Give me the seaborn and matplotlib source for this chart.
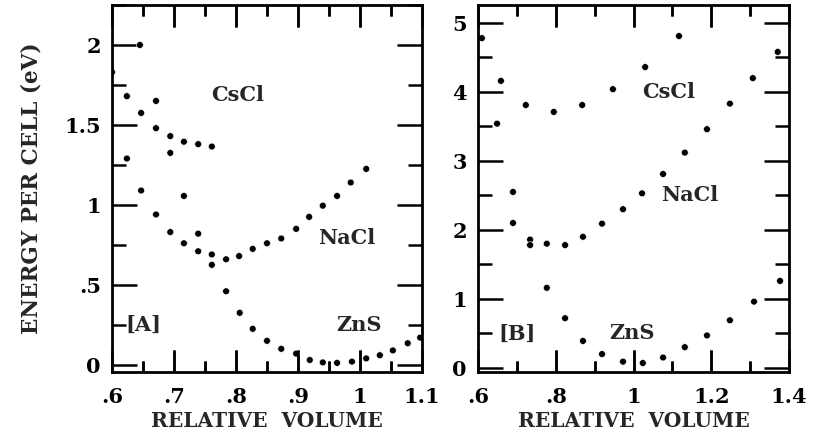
import numpy as np
import pandas as pd
import matplotlib
matplotlib.use("Agg")
import matplotlib.pyplot as plt
import seaborn as sns
from matplotlib.ticker import MultipleLocator, FixedLocator, FixedFormatter

# ---- data: panel A ----
cscl_a_x = [0.600, 0.624, 0.645, 0.647, 0.671, 0.671, 0.694, 0.694, 0.716, 0.739, 0.761]
cscl_a_y = [1.83, 1.68, 2.00, 1.575, 1.65, 1.48, 1.43, 1.325, 1.395, 1.38, 1.365]
nacl_a_x = [0.624, 0.647, 0.671, 0.694, 0.716, 0.739, 0.761, 0.784, 0.805, 0.827, 0.850,
            0.873, 0.897, 0.918, 0.940, 0.963, 0.985, 1.010]
nacl_a_y = [1.29, 1.09, 0.94, 0.83, 0.76, 0.71, 0.69, 0.66, 0.68, 0.725, 0.76,
            0.79, 0.85, 0.925, 0.995, 1.056, 1.14, 1.225]
zns_a_x = [0.716, 0.739, 0.761, 0.784, 0.806, 0.827, 0.850, 0.873, 0.897, 0.919, 0.940,
           0.963, 0.987, 1.010, 1.032, 1.053, 1.077, 1.097]
zns_a_y = [1.056, 0.82, 0.625, 0.46, 0.325, 0.225, 0.15, 0.10, 0.07, 0.03, 0.015,
           0.012, 0.02, 0.04, 0.06, 0.09, 0.135, 0.17]

# ---- data: panel B ----
cscl_b_x = [0.61, 0.649, 0.659, 0.723, 0.795, 0.868, 0.947, 1.03, 1.117, 1.307, 1.371]
cscl_b_y = [4.78, 3.54, 4.16, 3.81, 3.71, 3.81, 4.04, 4.36, 4.81, 4.20, 4.58]
nacl_b_x = [0.69, 0.69, 0.734, 0.734, 0.777, 0.824, 0.87, 0.919, 0.973, 1.022, 1.076,
            1.132, 1.189, 1.248]
nacl_b_y = [2.55, 2.10, 1.86, 1.78, 1.80, 1.78, 1.90, 2.09, 2.30, 2.53, 2.81,
            3.12, 3.46, 3.83]
zns_b_x = [0.777, 0.824, 0.87, 0.919, 0.973, 1.024, 1.076, 1.132, 1.189, 1.248, 1.31, 1.377]
zns_b_y = [1.16, 0.72, 0.39, 0.20, 0.09, 0.07, 0.15, 0.30, 0.47, 0.69, 0.96, 1.26]

xticks_a = [0.6, 0.7, 0.8, 0.9, 1.0, 1.1]
xminor_a = [0.65, 0.75, 0.85, 0.95, 1.05]
xlabels_a = [".6", ".7", ".8", ".9", "1", "1.1"]
yticks_a = [0, 0.5, 1, 1.5, 2]
ylabels_a = ["0", ".5", "1", "1.5", "2"]
xticks_b = [0.6, 0.8, 1.0, 1.2, 1.4]
xminor_b = [0.7, 0.9, 1.1, 1.3]
xlabels_b = [".6", ".8", "1", "1.2", "1.4"]
yticks_b = [0, 1, 2, 3, 4, 5]
ylabels_b = ["0", "1", "2", "3", "4", "5"]

sns.set_style("ticks")
plt.rcParams.update({
    "font.family": ["DejaVu Serif"],
    "axes.linewidth": 2.0,
    "axes.edgecolor": "black",
    "xtick.direction": "in", "ytick.direction": "in",
    "xtick.top": True, "xtick.bottom": True,
    "ytick.left": True, "ytick.right": True,
    "xtick.major.size": 16, "xtick.minor.size": 8,
    "ytick.major.size": 18, "ytick.minor.size": 10,
    "xtick.major.width": 1.8, "xtick.minor.width": 1.8,
    "ytick.major.width": 1.8, "ytick.minor.width": 1.8,
    "xtick.major.pad": 11, "ytick.major.pad": 8,
    "xtick.labelsize": 15, "ytick.labelsize": 15,
    "xtick.color": "black", "ytick.color": "black",
})


def frame(kind, xs, ys):
    return pd.DataFrame({"x": xs, "y": ys, "phase": kind})


df_a = pd.concat([frame("CsCl", cscl_a_x, cscl_a_y),
                  frame("NaCl", nacl_a_x, nacl_a_y),
                  frame("ZnS", zns_a_x, zns_a_y)], ignore_index=True)
df_b = pd.concat([frame("CsCl", cscl_b_x, cscl_b_y),
                  frame("NaCl", nacl_b_x, nacl_b_y),
                  frame("ZnS", zns_b_x, zns_b_y)], ignore_index=True)

fig = plt.figure(figsize=(8.16, 4.38), dpi=100)
W, H = 816, 438
AX_H = 367
ax_a = fig.add_axes([112 / W, (H - 372) / H, 310 / W, AX_H / H])
ax_b = fig.add_axes([478 / W, (H - 372) / H, 311 / W, AX_H / H])

pal = {"CsCl": "black", "NaCl": "black", "ZnS": "black"}
for ax, df in ((ax_a, df_a), (ax_b, df_b)):
    sns.scatterplot(data=df, x="x", y="y", hue="phase", palette=pal, s=24,
                    legend=False, ax=ax)

ax_a.set_xlim(0.6, 1.1)
ax_a.set_ylim(-0.045, 2.25)
ax_a.xaxis.set_major_locator(FixedLocator(xticks_a))
ax_a.xaxis.set_major_formatter(FixedFormatter(xlabels_a))
ax_a.xaxis.set_minor_locator(FixedLocator(xminor_a))
ax_a.yaxis.set_major_locator(FixedLocator(yticks_a))
ax_a.yaxis.set_major_formatter(FixedFormatter(ylabels_a))
ax_a.yaxis.set_minor_locator(MultipleLocator(0.25))

ax_b.set_xlim(0.6, 1.4)
ax_b.set_ylim(-0.06, 5.26)
ax_b.xaxis.set_major_locator(FixedLocator(xticks_b))
ax_b.xaxis.set_major_formatter(FixedFormatter(xlabels_b))
ax_b.xaxis.set_minor_locator(FixedLocator(xminor_b))
ax_b.yaxis.set_major_locator(FixedLocator(yticks_b))
ax_b.yaxis.set_major_formatter(FixedFormatter(ylabels_b))
ax_b.yaxis.set_minor_locator(MultipleLocator(0.5))

# explicit inward x tick marks (bottom and top) at the tick positions
maj_len = 16 * 100 / 72 / AX_H
min_len = 8 * 100 / 72 / AX_H
for ax, majors, minors in ((ax_a, xticks_a, xminor_a), (ax_b, xticks_b, xminor_b)):
    tr = ax.get_xaxis_transform()
    inner_maj = [v for v in majors if ax.get_xlim()[0] < v < ax.get_xlim()[1]]
    ax.vlines(inner_maj, 0, maj_len, transform=tr, colors="black", linewidth=1.8,
              zorder=3, clip_on=False)
    ax.vlines(inner_maj, 1 - maj_len, 1, transform=tr, colors="black", linewidth=1.8,
              zorder=3, clip_on=False)
    ax.vlines(minors, 0, min_len, transform=tr, colors="black", linewidth=1.8,
              zorder=3, clip_on=False)
    ax.vlines(minors, 1 - min_len, 1, transform=tr, colors="black", linewidth=1.8,
              zorder=3, clip_on=False)

for ax in (ax_a, ax_b):
    ax.set_xlabel("RELATIVE  VOLUME", fontsize=14.5, fontweight="bold", labelpad=3)
    ax.set_ylabel("")

ax_a.set_ylabel("ENERGY PER CELL (eV)", fontsize=15.5, fontweight="bold", labelpad=16)

txt = dict(fontsize=15, fontweight="bold", ha="center", va="center")
ax_a.text(0.802, 1.685, "CsCl", **txt)
ax_a.text(0.978, 0.795, "NaCl", **txt)
ax_a.text(0.998, 0.25, "ZnS", **txt)
ax_a.text(0.65, 0.25, "[A]", **txt)
ax_b.text(1.09, 4.0, "CsCl", **txt)
ax_b.text(1.145, 2.5, "NaCl", **txt)
ax_b.text(0.995, 0.5, "ZnS", **txt)
ax_b.text(0.70, 0.5, "[B]", **txt)

for ax in (ax_a, ax_b):
    for lab in ax.get_xticklabels() + ax.get_yticklabels():
        lab.set_fontweight("bold")

fig.savefig("out.png", dpi=100)
